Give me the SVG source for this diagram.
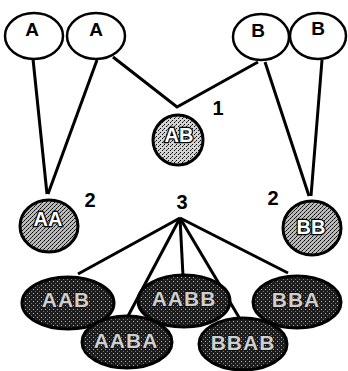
<svg xmlns="http://www.w3.org/2000/svg" width="348" height="371" viewBox="0 0 348 371">
<defs>
<pattern id="stipMid" width="4" height="4" patternUnits="userSpaceOnUse">
<rect width="4" height="4" fill="#d4d4d4"/>
<rect x="0" y="0" width="1" height="1" fill="#000"/>
<rect x="2" y="2" width="1" height="1" fill="#000"/>
<rect x="3" y="1" width="1" height="1" fill="#555"/>
</pattern>
<pattern id="stipMidD" width="4" height="4" patternUnits="userSpaceOnUse">
<rect width="4" height="4" fill="#bbb"/>
<rect x="0" y="0" width="1" height="1" fill="#000"/>
<rect x="2" y="2" width="1" height="1" fill="#000"/>
<rect x="3" y="1" width="1" height="1" fill="#333"/>
<rect x="1" y="3" width="1" height="1" fill="#444"/>
</pattern>
<pattern id="stipDark" width="4" height="4" patternUnits="userSpaceOnUse">
<rect width="4" height="4" fill="#1c1c1c"/>
<rect x="1" y="1" width="1" height="1" fill="#bbb"/>
<rect x="3" y="3" width="1" height="1" fill="#777"/>
</pattern>
<style>
.top{fill:#fff;stroke:#000;stroke-width:2.5}
.mid{fill:url(#stipMid);stroke:#000;stroke-width:3}
.midd{fill:url(#stipMidD);stroke:#000;stroke-width:3}
.dark{fill:url(#stipDark);stroke:#000;stroke-width:3}
.lt{font-family:"Liberation Sans",Arial,sans-serif;font-weight:bold;text-anchor:middle}
.tt{font-size:19px;fill:#000}
.mt{font-size:20px;fill:#fff;stroke:#000;stroke-width:2.5;paint-order:stroke}
.dt{font-size:21px;fill:#cfcfcf;stroke:#000;stroke-width:1;paint-order:stroke;letter-spacing:1px}
.num{font-size:20px;fill:#000}
.con{fill:none;stroke:#000;stroke-width:3;stroke-linejoin:miter}
</style>
</defs>
<g id="connectors">
<line class="con" x1="33" y1="59" x2="47" y2="194"/>
<line class="con" x1="97" y1="60" x2="48" y2="194"/>
<polyline class="con" points="113,57 177,107 258,62"/>
<line class="con" x1="265" y1="62" x2="309" y2="196"/>
<line class="con" x1="322" y1="60" x2="311" y2="196"/>
<line class="con" x1="180" y1="218" x2="78" y2="274"/>
<line class="con" x1="180" y1="218" x2="127" y2="318"/>
<line class="con" x1="180" y1="218" x2="183" y2="276"/>
<line class="con" x1="180" y1="218" x2="240" y2="319"/>
<line class="con" x1="180" y1="218" x2="288" y2="273"/>
</g>
<g id="labels">
<text class="lt num" x="218" y="115">1</text>
<text class="lt num" x="90" y="207">2</text>
<text class="lt num" x="273" y="205">2</text>
<text class="lt num" x="182" y="209">3</text>
</g>
<g id="nodeA1"><ellipse class="top" cx="34" cy="36" rx="29" ry="23"/><text class="lt tt" x="32" y="36">A</text></g>
<g id="nodeA2"><ellipse class="top" cx="96" cy="36" rx="29" ry="23"/><text class="lt tt" x="96" y="36">A</text></g>
<g id="nodeB1"><ellipse class="top" cx="261" cy="37" rx="28" ry="23"/><text class="lt tt" x="258" y="37">B</text></g>
<g id="nodeB2"><ellipse class="top" cx="318" cy="36" rx="28" ry="23"/><text class="lt tt" x="318" y="35">B</text></g>
<g id="nodeAB"><circle class="mid" cx="178" cy="140" r="25"/><text class="lt mt" x="179" y="142">AB</text></g>
<g id="nodeAA"><ellipse class="midd" cx="49" cy="226" rx="29" ry="26"/><text class="lt mt" x="48" y="226">AA</text></g>
<g id="nodeBB"><ellipse class="midd" cx="312" cy="228" rx="29" ry="27"/><text class="lt mt" x="311" y="234">BB</text></g>
<g id="nodeAAB"><ellipse class="dark" cx="68" cy="303" rx="46" ry="26"/><text class="lt dt" x="66" y="307">AAB</text></g>
<g id="nodeAABB"><ellipse class="dark" cx="184" cy="301" rx="46" ry="26"/><text class="lt dt" x="184" y="306">AABB</text></g>
<g id="nodeBBA"><ellipse class="dark" cx="297" cy="302" rx="44" ry="26"/><text class="lt dt" x="296" y="307">BBA</text></g>
<g id="nodeAABA"><ellipse class="dark" cx="127" cy="342" rx="45" ry="26"/><text class="lt dt" x="126" y="348">AABA</text></g>
<g id="nodeBBAB"><ellipse class="dark" cx="243" cy="344" rx="44" ry="26"/><text class="lt dt" x="243" y="350">BBAB</text></g>
</svg>
